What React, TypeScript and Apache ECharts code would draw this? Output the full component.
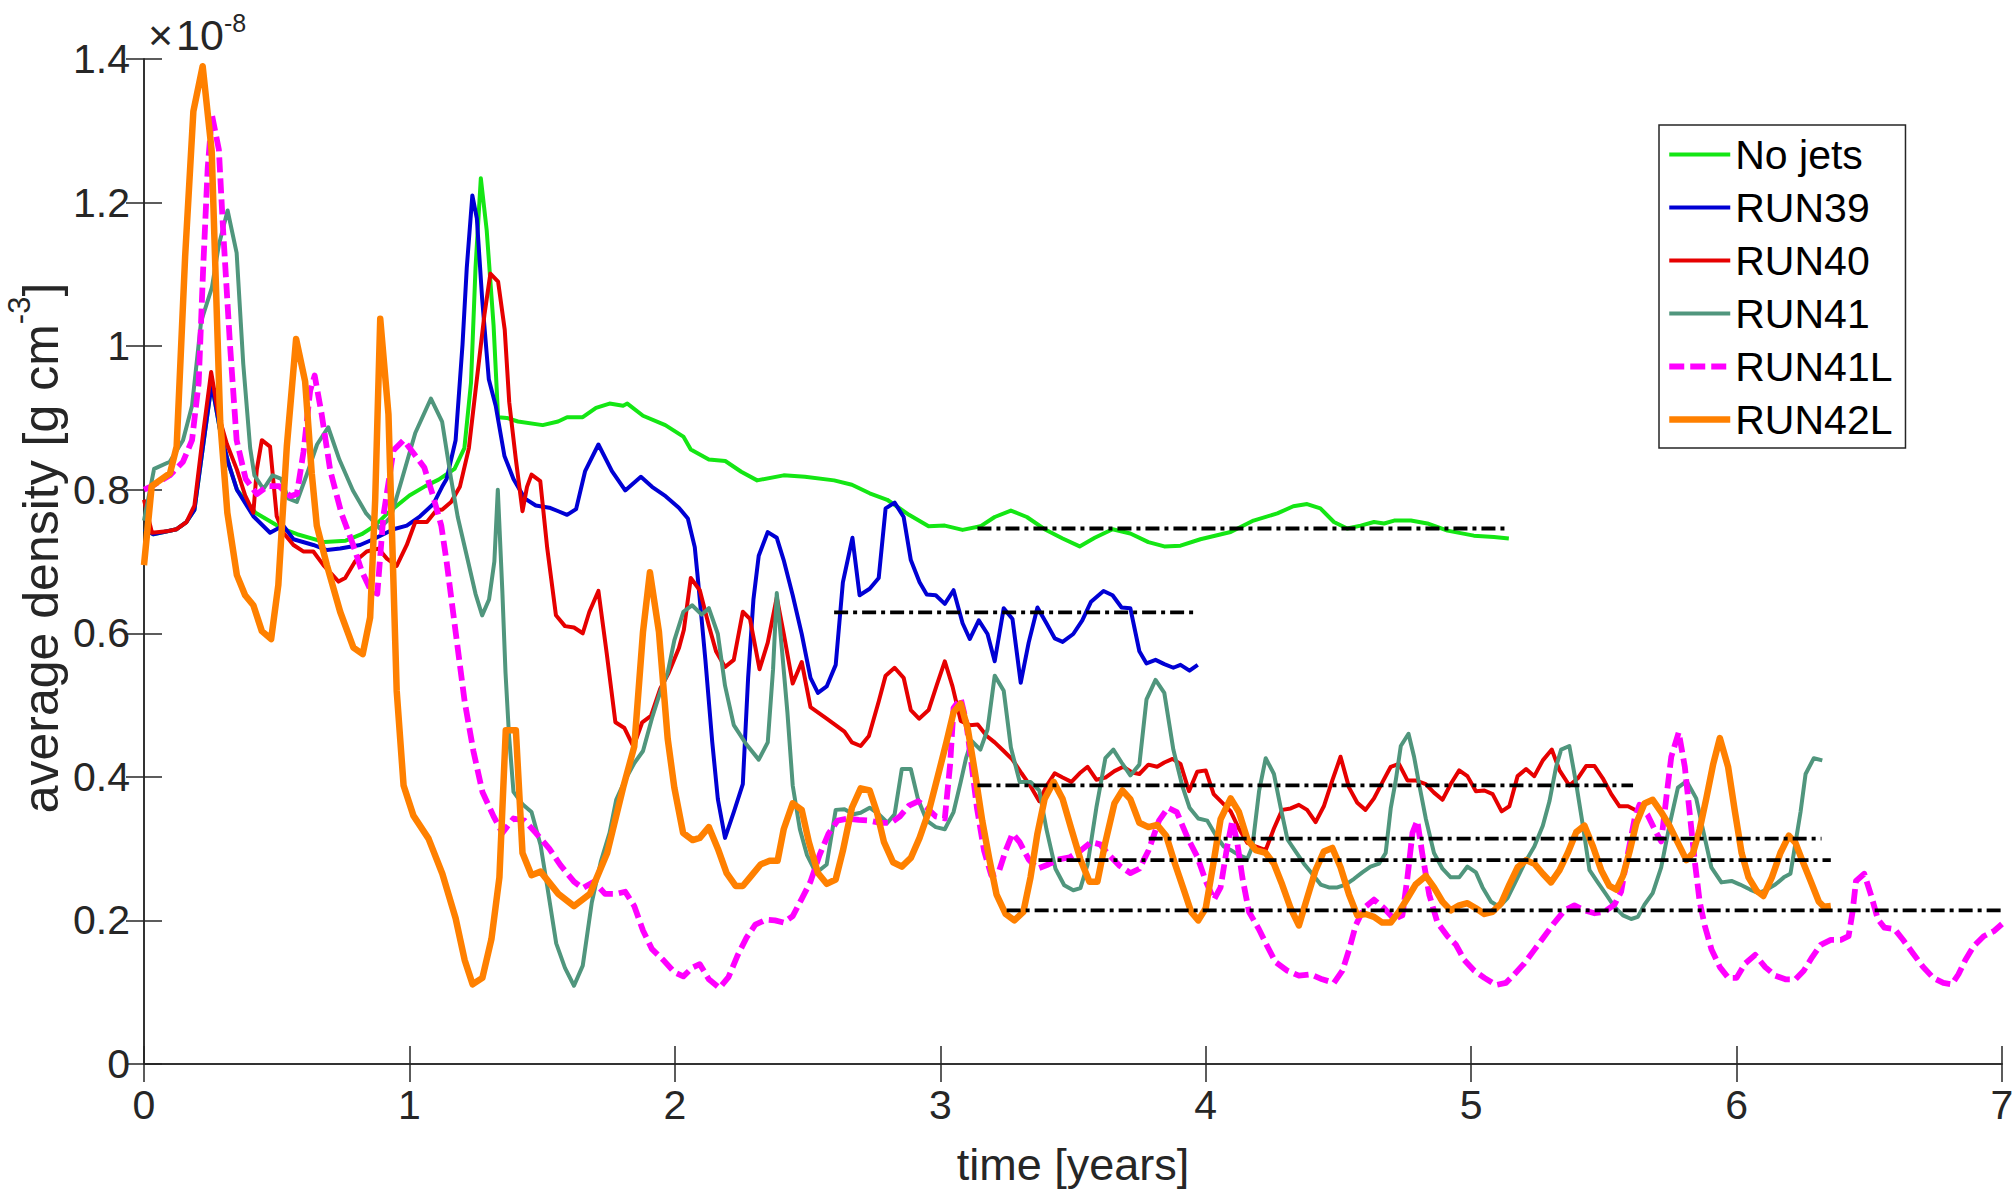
import React, { useEffect, useRef } from "react";
import * as echarts from "echarts";

// time [years], average density [1e-8 g cm^-3]
const noJets: number[][] = [
  [0, 0.745], [0.035, 0.738], [0.123, 0.745], [0.16, 0.755], [0.19, 0.772], [0.224, 0.865], [0.255, 0.948],
  [0.287, 0.882], [0.318, 0.837], [0.35, 0.8], [0.42, 0.768], [0.526, 0.745], [0.577, 0.738], [0.68, 0.727],
  [0.76, 0.729], [0.82, 0.738], [0.87, 0.75], [0.92, 0.768], [1.0, 0.792], [1.06, 0.805], [1.11, 0.814],
  [1.17, 0.829], [1.207, 0.858], [1.232, 0.949], [1.249, 1.109], [1.269, 1.234], [1.291, 1.162], [1.317, 1.029],
  [1.334, 0.901], [1.367, 0.9], [1.409, 0.895], [1.502, 0.89], [1.56, 0.895], [1.594, 0.901], [1.653, 0.901],
  [1.703, 0.914], [1.754, 0.92], [1.805, 0.917], [1.821, 0.92], [1.88, 0.903], [1.964, 0.89], [2.032, 0.874],
  [2.06, 0.856], [2.128, 0.842], [2.19, 0.84], [2.25, 0.825], [2.31, 0.813], [2.41, 0.82], [2.49, 0.818],
  [2.6, 0.813], [2.667, 0.807], [2.734, 0.795], [2.8, 0.786], [2.882, 0.765], [2.956, 0.749], [3.017, 0.75],
  [3.084, 0.744], [3.151, 0.749], [3.205, 0.762], [3.266, 0.771], [3.326, 0.762], [3.393, 0.745], [3.461, 0.732],
  [3.525, 0.721], [3.582, 0.733], [3.649, 0.745], [3.716, 0.739], [3.784, 0.727], [3.844, 0.721], [3.905, 0.722],
  [3.98, 0.731], [4.094, 0.741], [4.18, 0.757], [4.27, 0.767], [4.33, 0.777], [4.382, 0.78], [4.432, 0.774],
  [4.483, 0.755], [4.533, 0.746], [4.584, 0.75], [4.634, 0.755], [4.672, 0.753], [4.71, 0.757], [4.773, 0.757],
  [4.835, 0.753], [4.911, 0.743], [5.01, 0.736], [5.086, 0.734], [5.142, 0.732],
];

const run39: number[][] = [
  [0, 0.745], [0.035, 0.738], [0.123, 0.745], [0.16, 0.755], [0.19, 0.772], [0.224, 0.865], [0.255, 0.948],
  [0.287, 0.882], [0.318, 0.837], [0.35, 0.8], [0.412, 0.763], [0.475, 0.74], [0.525, 0.75], [0.563, 0.731],
  [0.638, 0.723], [0.689, 0.716], [0.739, 0.718], [0.814, 0.723], [0.864, 0.731], [0.94, 0.745], [0.99, 0.75],
  [1.04, 0.763], [1.09, 0.78], [1.123, 0.804], [1.14, 0.815], [1.174, 0.869], [1.2, 1.002], [1.216, 1.109],
  [1.237, 1.21], [1.254, 1.178], [1.274, 1.066], [1.299, 0.954], [1.325, 0.917], [1.358, 0.847], [1.392, 0.815],
  [1.434, 0.788], [1.476, 0.778], [1.527, 0.775], [1.561, 0.77], [1.594, 0.765], [1.628, 0.773], [1.662, 0.826],
  [1.712, 0.863], [1.763, 0.826], [1.813, 0.799], [1.872, 0.818], [1.914, 0.804], [1.965, 0.791], [2.015, 0.775],
  [2.049, 0.76], [2.075, 0.72], [2.088, 0.671], [2.115, 0.563], [2.141, 0.448], [2.162, 0.369], [2.189, 0.315],
  [2.222, 0.351], [2.256, 0.39], [2.276, 0.538], [2.296, 0.647], [2.316, 0.708], [2.35, 0.741], [2.384, 0.733],
  [2.41, 0.702], [2.444, 0.653], [2.478, 0.599], [2.511, 0.538], [2.539, 0.517], [2.572, 0.526], [2.606, 0.556],
  [2.633, 0.671], [2.669, 0.733], [2.696, 0.653], [2.734, 0.662], [2.768, 0.677], [2.794, 0.774], [2.828, 0.782],
  [2.862, 0.762], [2.889, 0.702], [2.922, 0.671], [2.949, 0.654], [2.983, 0.653], [3.017, 0.641], [3.05, 0.66],
  [3.084, 0.614], [3.111, 0.592], [3.145, 0.618], [3.178, 0.599], [3.205, 0.561], [3.239, 0.635], [3.272, 0.62],
  [3.303, 0.531], [3.333, 0.587], [3.366, 0.636], [3.4, 0.614], [3.431, 0.593], [3.461, 0.588], [3.501, 0.599],
  [3.535, 0.618], [3.568, 0.644], [3.615, 0.659], [3.649, 0.653], [3.683, 0.636], [3.716, 0.635], [3.75, 0.575],
  [3.777, 0.558], [3.811, 0.563], [3.844, 0.557], [3.878, 0.552], [3.905, 0.556], [3.939, 0.548], [3.97, 0.556],
];

const run40: number[][] = [
  [0, 0.786], [0.03, 0.74], [0.085, 0.742], [0.123, 0.745], [0.16, 0.755], [0.19, 0.778], [0.224, 0.882],
  [0.253, 0.964], [0.28, 0.905], [0.312, 0.864], [0.35, 0.828], [0.381, 0.792], [0.412, 0.768], [0.425, 0.828],
  [0.444, 0.869], [0.475, 0.86], [0.5, 0.763], [0.525, 0.74], [0.563, 0.723], [0.6, 0.714], [0.638, 0.714],
  [0.676, 0.695], [0.733, 0.672], [0.758, 0.677], [0.795, 0.7], [0.839, 0.714], [0.883, 0.718], [0.915, 0.704],
  [0.952, 0.694], [0.99, 0.723], [1.022, 0.755], [1.066, 0.755], [1.103, 0.772], [1.123, 0.772], [1.157, 0.783],
  [1.19, 0.804], [1.224, 0.858], [1.254, 0.954], [1.283, 1.045], [1.305, 1.101], [1.334, 1.09], [1.359, 1.023],
  [1.376, 0.922], [1.401, 0.842], [1.426, 0.77], [1.443, 0.804], [1.46, 0.821], [1.493, 0.812], [1.519, 0.719],
  [1.552, 0.625], [1.586, 0.61], [1.62, 0.608], [1.653, 0.6], [1.678, 0.63], [1.712, 0.659], [1.743, 0.573],
  [1.776, 0.476], [1.81, 0.468], [1.844, 0.442], [1.877, 0.476], [1.91, 0.485], [1.944, 0.522], [1.977, 0.545],
  [2.015, 0.579], [2.034, 0.605], [2.06, 0.677], [2.094, 0.66], [2.128, 0.611], [2.155, 0.575], [2.189, 0.553],
  [2.222, 0.563], [2.256, 0.63], [2.283, 0.62], [2.319, 0.55], [2.35, 0.587], [2.384, 0.65], [2.41, 0.6],
  [2.444, 0.53], [2.478, 0.56], [2.511, 0.497], [2.572, 0.481], [2.639, 0.463], [2.667, 0.448], [2.7, 0.443],
  [2.731, 0.457], [2.768, 0.505], [2.794, 0.541], [2.828, 0.552], [2.862, 0.538], [2.889, 0.493], [2.92, 0.481],
  [2.956, 0.493], [2.987, 0.528], [3.017, 0.561], [3.046, 0.526], [3.077, 0.478], [3.111, 0.472], [3.141, 0.473],
  [3.175, 0.457], [3.205, 0.448], [3.239, 0.436], [3.272, 0.424], [3.306, 0.405], [3.34, 0.387], [3.373, 0.366],
  [3.4, 0.387], [3.431, 0.405], [3.461, 0.399], [3.494, 0.393], [3.525, 0.405], [3.555, 0.414], [3.588, 0.396],
  [3.622, 0.399], [3.656, 0.408], [3.689, 0.414], [3.723, 0.406], [3.75, 0.404], [3.784, 0.417], [3.817, 0.414],
  [3.844, 0.42], [3.875, 0.425], [3.905, 0.418], [3.937, 0.38], [3.968, 0.407], [4.0, 0.409], [4.03, 0.376],
  [4.062, 0.364], [4.094, 0.352], [4.125, 0.328], [4.157, 0.308], [4.188, 0.303], [4.226, 0.298], [4.257, 0.328],
  [4.288, 0.354], [4.32, 0.356], [4.351, 0.361], [4.382, 0.354], [4.414, 0.337], [4.445, 0.359], [4.477, 0.395],
  [4.508, 0.428], [4.54, 0.385], [4.571, 0.364], [4.602, 0.354], [4.634, 0.37], [4.665, 0.392], [4.697, 0.414],
  [4.728, 0.418], [4.76, 0.395], [4.791, 0.395], [4.829, 0.39], [4.86, 0.378], [4.892, 0.368], [4.923, 0.39],
  [4.955, 0.409], [4.986, 0.401], [5.018, 0.38], [5.05, 0.381], [5.081, 0.376], [5.115, 0.352], [5.144, 0.359],
  [5.175, 0.401], [5.207, 0.411], [5.238, 0.401], [5.27, 0.423], [5.304, 0.438], [5.333, 0.409], [5.37, 0.388],
  [5.402, 0.398], [5.433, 0.415], [5.465, 0.415], [5.496, 0.398], [5.528, 0.376], [5.559, 0.359], [5.591, 0.359],
  [5.622, 0.353],
];

const run41: number[][] = [
  [0, 0.757], [0.038, 0.829], [0.097, 0.839], [0.147, 0.869], [0.181, 0.917], [0.215, 1.034], [0.256, 1.082],
  [0.282, 1.141], [0.315, 1.189], [0.349, 1.13], [0.374, 0.975], [0.4, 0.858], [0.416, 0.82], [0.45, 0.801],
  [0.484, 0.82], [0.517, 0.815], [0.543, 0.788], [0.576, 0.783], [0.618, 0.826], [0.652, 0.863], [0.694, 0.887],
  [0.736, 0.842], [0.787, 0.799], [0.837, 0.767], [0.888, 0.746], [0.93, 0.762], [0.972, 0.815], [1.022, 0.879],
  [1.081, 0.927], [1.123, 0.895], [1.157, 0.815], [1.182, 0.762], [1.216, 0.708], [1.249, 0.655], [1.274, 0.625],
  [1.3, 0.647], [1.32, 0.7], [1.333, 0.8], [1.35, 0.659], [1.362, 0.545], [1.375, 0.459], [1.392, 0.379],
  [1.426, 0.362], [1.46, 0.351], [1.494, 0.305], [1.519, 0.248], [1.553, 0.168], [1.586, 0.134], [1.62, 0.109],
  [1.653, 0.137], [1.687, 0.225], [1.721, 0.282], [1.754, 0.322], [1.779, 0.368], [1.813, 0.396], [1.847, 0.419],
  [1.88, 0.436], [1.914, 0.482], [1.948, 0.522], [1.973, 0.545], [1.998, 0.59], [2.032, 0.63], [2.065, 0.639],
  [2.101, 0.626], [2.128, 0.635], [2.162, 0.599], [2.189, 0.527], [2.222, 0.472], [2.27, 0.445], [2.316, 0.424],
  [2.35, 0.448], [2.37, 0.55], [2.384, 0.656], [2.404, 0.575], [2.424, 0.49], [2.444, 0.388], [2.471, 0.327],
  [2.498, 0.291], [2.532, 0.266], [2.572, 0.278], [2.606, 0.354], [2.639, 0.355], [2.673, 0.348], [2.7, 0.35],
  [2.734, 0.357], [2.768, 0.348], [2.801, 0.336], [2.828, 0.348], [2.855, 0.411], [2.889, 0.411], [2.916, 0.369],
  [2.949, 0.339], [2.983, 0.33], [3.017, 0.327], [3.05, 0.351], [3.077, 0.393], [3.097, 0.426], [3.118, 0.45],
  [3.151, 0.438], [3.178, 0.466], [3.205, 0.541], [3.239, 0.52], [3.266, 0.441], [3.299, 0.393], [3.34, 0.393],
  [3.373, 0.381], [3.4, 0.327], [3.434, 0.272], [3.467, 0.249], [3.501, 0.242], [3.528, 0.245], [3.555, 0.278],
  [3.588, 0.357], [3.622, 0.426], [3.652, 0.438], [3.683, 0.42], [3.716, 0.402], [3.75, 0.417], [3.777, 0.508],
  [3.811, 0.535], [3.844, 0.517], [3.878, 0.438], [3.912, 0.387], [3.939, 0.357], [3.972, 0.342], [4.006, 0.339],
  [4.039, 0.318], [4.068, 0.303], [4.094, 0.298], [4.125, 0.291], [4.157, 0.286], [4.176, 0.303], [4.201, 0.38],
  [4.226, 0.426], [4.257, 0.404], [4.283, 0.356], [4.308, 0.313], [4.339, 0.296], [4.37, 0.279], [4.401, 0.265],
  [4.433, 0.25], [4.464, 0.246], [4.496, 0.246], [4.527, 0.25], [4.559, 0.258], [4.59, 0.267], [4.621, 0.275],
  [4.653, 0.279], [4.678, 0.294], [4.697, 0.356], [4.716, 0.395], [4.735, 0.443], [4.764, 0.46], [4.785, 0.428],
  [4.804, 0.39], [4.829, 0.342], [4.86, 0.294], [4.892, 0.272], [4.923, 0.26], [4.955, 0.26], [4.986, 0.275],
  [5.018, 0.267], [5.043, 0.246], [5.075, 0.226], [5.106, 0.219], [5.137, 0.231], [5.169, 0.255], [5.2, 0.279],
  [5.238, 0.303], [5.27, 0.332], [5.295, 0.366], [5.32, 0.414], [5.339, 0.438], [5.37, 0.443], [5.396, 0.39],
  [5.421, 0.332], [5.446, 0.27], [5.477, 0.253], [5.509, 0.236], [5.54, 0.219], [5.572, 0.207], [5.603, 0.202],
  [5.628, 0.205], [5.653, 0.222], [5.684, 0.238], [5.716, 0.274], [5.747, 0.332], [5.779, 0.385], [5.812, 0.394],
  [5.848, 0.37], [5.873, 0.327], [5.905, 0.274], [5.943, 0.253], [5.981, 0.255], [6.013, 0.25], [6.051, 0.243],
  [6.083, 0.238], [6.114, 0.243], [6.146, 0.25], [6.178, 0.26], [6.203, 0.265], [6.222, 0.308], [6.241, 0.351],
  [6.26, 0.404], [6.291, 0.426], [6.323, 0.423],
];

const run41L: number[][] = [
  [0, 0.8], [0.03, 0.805], [0.097, 0.82], [0.147, 0.839], [0.181, 0.869], [0.206, 0.949], [0.223, 1.109],
  [0.24, 1.248], [0.256, 1.322], [0.282, 1.274], [0.298, 1.162], [0.324, 1.002], [0.349, 0.869], [0.383, 0.815],
  [0.425, 0.794], [0.467, 0.805], [0.509, 0.805], [0.551, 0.791], [0.576, 0.794], [0.601, 0.853], [0.626, 0.938],
  [0.643, 0.959], [0.669, 0.906], [0.702, 0.826], [0.744, 0.767], [0.787, 0.724], [0.82, 0.687], [0.854, 0.66],
  [0.879, 0.655], [0.902, 0.764], [0.94, 0.855], [0.978, 0.869], [1.015, 0.851], [1.056, 0.831], [1.09, 0.79],
  [1.12, 0.75], [1.14, 0.7], [1.174, 0.602], [1.208, 0.505], [1.241, 0.436], [1.275, 0.379], [1.317, 0.345],
  [1.35, 0.322], [1.392, 0.342], [1.434, 0.339], [1.476, 0.322], [1.527, 0.3], [1.569, 0.277], [1.62, 0.254],
  [1.653, 0.245], [1.695, 0.254], [1.737, 0.237], [1.779, 0.237], [1.813, 0.24], [1.847, 0.22], [1.88, 0.186],
  [1.914, 0.16], [1.956, 0.145], [1.998, 0.128], [2.032, 0.122], [2.065, 0.134], [2.094, 0.139], [2.128, 0.118],
  [2.168, 0.106], [2.202, 0.121], [2.236, 0.151], [2.27, 0.176], [2.303, 0.194], [2.343, 0.201], [2.377, 0.2],
  [2.41, 0.197], [2.444, 0.206], [2.478, 0.23], [2.511, 0.254], [2.545, 0.291], [2.579, 0.321], [2.613, 0.339],
  [2.653, 0.342], [2.693, 0.34], [2.734, 0.339], [2.774, 0.336], [2.815, 0.336], [2.848, 0.345], [2.882, 0.36],
  [2.916, 0.366], [2.949, 0.357], [2.983, 0.345], [3.017, 0.342], [3.037, 0.417], [3.05, 0.496], [3.077, 0.509],
  [3.097, 0.478], [3.118, 0.417], [3.138, 0.357], [3.165, 0.297], [3.192, 0.263], [3.219, 0.266], [3.246, 0.297],
  [3.272, 0.321], [3.299, 0.309], [3.333, 0.285], [3.366, 0.272], [3.407, 0.278], [3.447, 0.285], [3.488, 0.288],
  [3.528, 0.297], [3.568, 0.309], [3.602, 0.306], [3.636, 0.291], [3.676, 0.276], [3.716, 0.266], [3.75, 0.272],
  [3.784, 0.297], [3.824, 0.339], [3.858, 0.357], [3.891, 0.351], [3.932, 0.315], [3.968, 0.289], [4.0, 0.255],
  [4.031, 0.229], [4.056, 0.246], [4.081, 0.303], [4.1, 0.339], [4.119, 0.308], [4.138, 0.26], [4.163, 0.212],
  [4.2, 0.188], [4.232, 0.164], [4.263, 0.142], [4.307, 0.13], [4.351, 0.123], [4.395, 0.125], [4.439, 0.118],
  [4.483, 0.113], [4.515, 0.13], [4.54, 0.159], [4.565, 0.193], [4.596, 0.217], [4.634, 0.229], [4.672, 0.217],
  [4.709, 0.202], [4.741, 0.207], [4.76, 0.26], [4.779, 0.322], [4.797, 0.339], [4.816, 0.293], [4.842, 0.236],
  [4.873, 0.197], [4.911, 0.178], [4.943, 0.166], [4.974, 0.145], [5.012, 0.13], [5.05, 0.12], [5.094, 0.11],
  [5.131, 0.113], [5.163, 0.125], [5.2, 0.14], [5.238, 0.159], [5.276, 0.178], [5.314, 0.197], [5.352, 0.214],
  [5.389, 0.221], [5.427, 0.214], [5.465, 0.21], [5.502, 0.212], [5.54, 0.222], [5.565, 0.24], [5.591, 0.294],
  [5.616, 0.342], [5.634, 0.361], [5.665, 0.347], [5.691, 0.327], [5.716, 0.31], [5.735, 0.37], [5.754, 0.428],
  [5.782, 0.462], [5.805, 0.414], [5.823, 0.351], [5.842, 0.284], [5.861, 0.226], [5.88, 0.193], [5.906, 0.159],
  [5.937, 0.135], [5.969, 0.12], [6.0, 0.12], [6.032, 0.14], [6.07, 0.152], [6.108, 0.135], [6.146, 0.123],
  [6.184, 0.118], [6.222, 0.118], [6.253, 0.13], [6.285, 0.149], [6.317, 0.166], [6.355, 0.173], [6.393, 0.173],
  [6.422, 0.178], [6.437, 0.212], [6.45, 0.255], [6.481, 0.265], [6.506, 0.236], [6.532, 0.202], [6.557, 0.19],
  [6.595, 0.188], [6.627, 0.173], [6.665, 0.154], [6.703, 0.135], [6.741, 0.12], [6.779, 0.113], [6.811, 0.111],
  [6.836, 0.125], [6.862, 0.145], [6.893, 0.164], [6.931, 0.178], [6.969, 0.185], [7.0, 0.195],
];

const run42L: number[][] = [
  [0, 0.695], [0.029, 0.805], [0.098, 0.823], [0.123, 0.86], [0.155, 1.125], [0.186, 1.327], [0.221, 1.39],
  [0.255, 1.272], [0.287, 0.896], [0.314, 0.768], [0.35, 0.681], [0.381, 0.653], [0.412, 0.639], [0.444, 0.603],
  [0.479, 0.592], [0.506, 0.667], [0.538, 0.86], [0.573, 1.01], [0.607, 0.951], [0.632, 0.823], [0.651, 0.75],
  [0.689, 0.695], [0.739, 0.63], [0.789, 0.58], [0.824, 0.571], [0.852, 0.622], [0.871, 0.786], [0.89, 1.038],
  [0.921, 0.905], [0.952, 0.52], [0.978, 0.388], [1.015, 0.346], [1.072, 0.314], [1.124, 0.265], [1.174, 0.203],
  [1.208, 0.145], [1.238, 0.111], [1.275, 0.12], [1.309, 0.174], [1.339, 0.26], [1.363, 0.465], [1.401, 0.465],
  [1.426, 0.294], [1.46, 0.263], [1.494, 0.268], [1.561, 0.237], [1.62, 0.22], [1.68, 0.237], [1.745, 0.294],
  [1.805, 0.385], [1.847, 0.442], [1.88, 0.602], [1.906, 0.685], [1.94, 0.602], [1.973, 0.453], [1.998, 0.385],
  [2.031, 0.322], [2.067, 0.312], [2.094, 0.315], [2.128, 0.33], [2.162, 0.3], [2.195, 0.266], [2.229, 0.248],
  [2.256, 0.248], [2.29, 0.263], [2.323, 0.278], [2.357, 0.283], [2.387, 0.283], [2.41, 0.327], [2.444, 0.363],
  [2.478, 0.354], [2.505, 0.309], [2.539, 0.266], [2.572, 0.251], [2.606, 0.257], [2.633, 0.297], [2.667, 0.357],
  [2.7, 0.384], [2.734, 0.381], [2.761, 0.351], [2.788, 0.309], [2.822, 0.281], [2.855, 0.275], [2.889, 0.287],
  [2.922, 0.315], [2.956, 0.351], [2.99, 0.4], [3.023, 0.448], [3.05, 0.49], [3.077, 0.502], [3.104, 0.466],
  [3.131, 0.405], [3.158, 0.339], [3.185, 0.285], [3.212, 0.236], [3.246, 0.209], [3.279, 0.2], [3.313, 0.212],
  [3.34, 0.26], [3.366, 0.321], [3.393, 0.369], [3.427, 0.393], [3.461, 0.369], [3.494, 0.327], [3.528, 0.285],
  [3.562, 0.254], [3.592, 0.254], [3.622, 0.309], [3.656, 0.363], [3.686, 0.381], [3.716, 0.369], [3.75, 0.336],
  [3.784, 0.33], [3.817, 0.333], [3.851, 0.318], [3.885, 0.278], [3.918, 0.242], [3.945, 0.212], [3.972, 0.2],
  [4.0, 0.217], [4.031, 0.284], [4.056, 0.341], [4.094, 0.37], [4.125, 0.351], [4.157, 0.313], [4.188, 0.298],
  [4.226, 0.294], [4.257, 0.279], [4.288, 0.25], [4.32, 0.217], [4.351, 0.193], [4.382, 0.231], [4.414, 0.27],
  [4.445, 0.296], [4.477, 0.301], [4.508, 0.274], [4.54, 0.236], [4.571, 0.207], [4.602, 0.209], [4.634, 0.205],
  [4.665, 0.197], [4.697, 0.197], [4.728, 0.212], [4.76, 0.231], [4.791, 0.25], [4.829, 0.262], [4.86, 0.246],
  [4.892, 0.226], [4.923, 0.214], [4.955, 0.221], [4.986, 0.224], [5.018, 0.217], [5.05, 0.209], [5.081, 0.212],
  [5.113, 0.224], [5.144, 0.25], [5.175, 0.274], [5.207, 0.284], [5.238, 0.279], [5.27, 0.265], [5.301, 0.253],
  [5.333, 0.27], [5.364, 0.294], [5.396, 0.323], [5.427, 0.332], [5.459, 0.303], [5.49, 0.27], [5.521, 0.248],
  [5.547, 0.243], [5.572, 0.262], [5.597, 0.296], [5.622, 0.335], [5.653, 0.363], [5.684, 0.368], [5.716, 0.351],
  [5.747, 0.332], [5.779, 0.308], [5.811, 0.284], [5.836, 0.294], [5.861, 0.327], [5.886, 0.37], [5.912, 0.418],
  [5.937, 0.454], [5.968, 0.414], [5.994, 0.351], [6.019, 0.294], [6.045, 0.26], [6.076, 0.241], [6.101, 0.234],
  [6.133, 0.26], [6.165, 0.294], [6.197, 0.318], [6.222, 0.308], [6.247, 0.284], [6.279, 0.255], [6.31, 0.226],
  [6.329, 0.219], [6.355, 0.22],
];

// time-averaged levels (black dash-dot lines)
const avgLevel: number[] = [0.746, 0.629, 0.388, 0.314, 0.284, 0.214];
const avgStart: number[] = [3.14, 2.6, 3.14, 3.785, 3.37, 3.25];
const avgEnd: number[] = [5.14, 3.97, 5.61, 6.32, 6.355, 7.0];

const seriesNames: string[] = ["No jets", "RUN39", "RUN40", "RUN41", "RUN41L", "RUN42L"];
const seriesData: number[][][] = [noJets, run39, run40, run41, run41L, run42L];

const xTicks = { min: 0, max: 7, interval: 1 };
const yTicks = { min: 0, max: 1.4, interval: 0.2 };

const FONT = '"Liberation Sans", Arial, Helvetica, sans-serif';
const AX = "#262626";

const styles = [
  { color: "#14e614", width: 4, type: "solid" as any },
  { color: "#0000d4", width: 4, type: "solid" as any },
  { color: "#e60000", width: 4, type: "solid" as any },
  { color: "#50967d", width: 4, type: "solid" as any },
  { color: "#ff00ff", width: 5.8, type: [15, 6] as any },
  { color: "#ff8000", width: 6.5, type: "solid" as any },
];

export default function App() {
  const ref = useRef<HTMLDivElement>(null);

  useEffect(() => {
    document.body.style.margin = "0";
    if (!ref.current) return;
    const chart = echarts.init(ref.current, undefined, { renderer: "svg" });

    const axisLine = { show: true, lineStyle: { color: AX, width: 1.5 } };
    const axisTick = { show: true, inside: true, length: 18, lineStyle: { color: AX, width: 1.5 } };

    const mainSeries = seriesNames.map((name, i) => ({
      name,
      type: "line",
      data: seriesData[i],
      symbol: "none",
      showSymbol: false,
      smooth: false,
      clip: true,
      z: 2 + i,
      lineStyle: { color: styles[i].color, width: styles[i].width, type: styles[i].type, cap: "butt", join: "round" },
      itemStyle: { color: styles[i].color },
    }));

    const avgSeries = avgLevel.map((lv, i) => ({
      name: "avg" + i,
      type: "line",
      data: [
        [avgStart[i], lv],
        [avgEnd[i], lv],
      ],
      symbol: "none",
      silent: true,
      z: 20,
      lineStyle: { color: "#000", width: 3.8, type: [14, 5, 4, 5] },
    }));

    const option: any = {
      animation: false,
      backgroundColor: "#fff",
      grid: { left: 144, right: 14, top: 59, bottom: 128, containLabel: false, outerBoundsMode: "none" },
      xAxis: [
        {
          type: "value",
          ...xTicks,
          position: "bottom",
          axisLine,
          axisTick,
          splitLine: { show: false },
          axisLabel: {
            show: true,
            fontSize: 41,
            fontFamily: FONT,
            color: AX,
            margin: 20,
            showMinLabel: true,
            showMaxLabel: true,
          },
        },
        {
          type: "value",
          ...xTicks,
          position: "top",
          axisLine,
          axisTick,
          splitLine: { show: false },
          axisLabel: { show: false },
        },
      ],
      yAxis: [
        {
          type: "value",
          ...yTicks,
          position: "left",
          axisLine,
          axisTick,
          splitLine: { show: false },
          axisLabel: {
            show: true,
            fontSize: 41,
            fontFamily: FONT,
            color: AX,
            margin: 14,
            showMinLabel: true,
            showMaxLabel: true,
            formatter: (v: number) => String(parseFloat(v.toFixed(1))),
          },
        },
        {
          type: "value",
          ...yTicks,
          position: "right",
          axisLine,
          axisTick,
          splitLine: { show: false },
          axisLabel: { show: false },
        },
      ],
      legend: {
        data: seriesNames,
        orient: "vertical",
        left: 1659,
        top: 125,
        itemWidth: 61,
        itemHeight: 40,
        itemGap: 12,
        padding: [9, 13, 8, 7],
        borderColor: AX,
        borderWidth: 1.5,
        backgroundColor: "#fff",
        selectedMode: false,
        itemStyle: { opacity: 0, borderWidth: 0 },
        lineStyle: { width: "inherit", type: "inherit", color: "inherit" },
        textStyle: { fontSize: 41, fontFamily: FONT, color: "#000", lineHeight: 40 },
      },
      graphic: [
        {
          type: "text",
          x: 1073,
          y: 1164,
          style: {
            text: "time [years]",
            fontSize: 45,
            fontFamily: FONT,
            fill: AX,
            align: "center",
            verticalAlign: "middle",
          },
        },
        {
          type: "text",
          x: 41,
          y: 548,
          rotation: Math.PI / 2,
          style: {
            text: "{a|average density [g cm}{s|-3}{a|]}",
            fontFamily: FONT,
            fill: AX,
            align: "center",
            verticalAlign: "middle",
            rich: {
              a: { fontSize: 50, fontFamily: FONT, fill: AX, lineHeight: 74 },
              s: { fontSize: 31, fontFamily: FONT, fill: AX, lineHeight: 30, verticalAlign: "top" },
            },
          },
        },
        {
          type: "text",
          x: 148,
          y: 35,
          style: {
            text: "{x|×}{a|10}{s|-8}",
            fontFamily: FONT,
            fill: AX,
            align: "left",
            verticalAlign: "middle",
            rich: {
              x: { fontSize: 43, fontFamily: FONT, fill: AX, lineHeight: 50, padding: [0, 3, 0, 0] },
              a: { fontSize: 43, fontFamily: FONT, fill: AX, lineHeight: 50 },
              s: { fontSize: 25, fontFamily: FONT, fill: AX, lineHeight: 24, verticalAlign: "top" },
            },
          },
        },
      ],
      series: [...mainSeries, ...avgSeries],
    };

    chart.setOption(option);
    return () => chart.dispose();
  }, []);

  return <div ref={ref} style={{ width: 2016, height: 1192 }} />;
}
